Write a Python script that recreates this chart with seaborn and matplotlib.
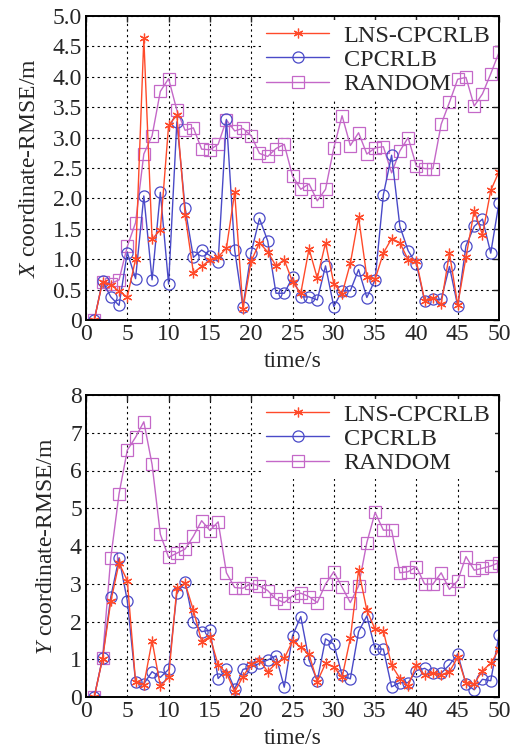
import numpy as np
import pandas as pd
import seaborn as sns
import matplotlib.pyplot as plt

sns.set_style('white')
plt.rcParams['font.family'] = ['Liberation Serif', 'DejaVu Serif']
plt.rcParams['mathtext.fontset'] = 'custom'
plt.rcParams['mathtext.rm'] = 'Liberation Serif'
plt.rcParams['mathtext.it'] = 'Liberation Serif:italic'

time = list(range(1, 51))

x_lns = [0, 0.63, 0.58, 0.47, 0.38, 1.00, 4.63, 1.33, 1.48, 3.20,
         3.37, 1.73, 0.78, 0.88, 0.99, 1.04, 1.18, 2.10, 0.18, 0.97,
         1.27, 1.12, 0.89, 0.99, 0.63, 0.44, 1.17, 0.69, 1.27, 0.60,
         0.43, 0.93, 1.69, 0.71, 0.67, 1.10, 1.34, 1.27, 0.99, 0.97,
         0.32, 0.37, 0.26, 1.10, 0.25, 1.03, 1.80, 1.40, 2.13, 2.44]
x_cp = [0, 0.64, 0.38, 0.24, 1.11, 0.68, 2.04, 0.66, 2.10, 0.59,
        3.26, 1.84, 1.03, 1.15, 1.06, 0.96, 3.30, 1.15, 0.22, 1.11,
        1.67, 1.30, 0.44, 0.44, 0.70, 0.38, 0.38, 0.33, 0.89, 0.22,
        0.48, 0.48, 0.83, 0.37, 0.66, 2.06, 2.71, 1.54, 1.14, 0.92,
        0.31, 0.34, 0.34, 0.88, 0.23, 1.22, 1.54, 1.66, 1.10, 1.93]
x_rand = [0, 0.63, 0.60, 0.66, 1.21, 1.60, 2.73, 3.03, 3.76, 3.97,
          3.45, 3.12, 3.16, 2.81, 2.80, 2.89, 3.29, 3.11, 3.15, 3.03,
          2.74, 2.69, 2.82, 2.89, 2.37, 2.15, 2.24, 1.96, 2.15, 2.83,
          3.36, 2.87, 3.08, 2.73, 2.83, 2.85, 2.42, 2.78, 3.00, 2.53,
          2.49, 2.49, 3.22, 3.58, 3.96, 3.99, 3.52, 3.72, 4.05, 4.40]

y_lns = [0, 1.01, 2.53, 3.55, 3.08, 0.41, 0.32, 1.49, 0.29, 0.52,
         2.88, 3.01, 2.30, 1.47, 1.60, 0.85, 0.64, 0.14, 0.54, 0.87,
         0.98, 0.67, 0.89, 1.02, 1.48, 1.32, 1.13, 0.41, 0.89, 0.80,
         0.52, 1.55, 3.36, 2.30, 1.79, 1.75, 0.84, 0.49, 0.29, 0.85,
         0.58, 0.63, 0.58, 0.67, 1.05, 0.36, 0.35, 0.70, 0.89, 1.26]
y_cp = [0, 1.03, 2.65, 3.69, 2.55, 0.41, 0.35, 0.67, 0.52, 0.73,
        2.75, 3.04, 1.99, 1.73, 1.77, 0.49, 0.73, 0.21, 0.73, 0.79,
        0.89, 0.98, 1.09, 0.26, 1.62, 2.13, 0.98, 0.43, 1.54, 1.40,
        0.58, 0.48, 1.73, 2.15, 1.27, 1.27, 0.27, 0.38, 0.38, 0.70,
        0.76, 0.63, 0.63, 0.85, 1.14, 0.35, 0.19, 0.47, 0.43, 1.64]
y_rand = [0, 1.03, 3.69, 5.38, 6.54, 6.88, 7.29, 6.16, 4.31, 3.70,
          3.81, 3.92, 4.26, 4.67, 4.41, 4.64, 3.29, 2.90, 2.88, 3.01,
          2.94, 2.82, 2.59, 2.50, 2.68, 2.75, 2.66, 2.50, 2.99, 3.32,
          2.91, 2.50, 2.94, 4.09, 4.89, 4.42, 4.42, 3.29, 3.32, 3.45,
          2.99, 2.99, 3.29, 2.85, 3.08, 3.72, 3.36, 3.41, 3.47, 3.56]

names = ['LNS-CPCRLB', 'CPCRLB', 'RANDOM']
colors = ['#ff4a2a', '#4a4ac8', '#c468c8']
asterisk = (6, 2, 0)


def draw_panel(ax, series, yticks, yticklabels, ylabel):
    df = pd.DataFrame({'time': time})
    for name, vals in zip(names, series):
        df[name] = vals
    styles = [dict(marker=asterisk, markersize=7, zorder=4),
              dict(marker='o', markersize=8, zorder=3),
              dict(marker='s', markersize=8, zorder=2.5)]
    for name, color, st in zip(names, colors, styles):
        sns.lineplot(data=df, x='time', y=name, ax=ax, color=color, label=name,
                     linewidth=1.0, markerfacecolor='none', markeredgecolor=color,
                     markeredgewidth=0.9, estimator=None, sort=False, **st)
    ax.set_xlim(0, 50)
    ax.set_ylim(yticks[0], yticks[-1])
    ax.set_xticks(range(0, 51, 5))
    ax.set_yticks(yticks, yticklabels)
    ax.set_axisbelow(True)
    ax.grid(True, color='black', linestyle=(0, (2, 3)), linewidth=0.8)
    ax.tick_params(direction='in', length=4, width=1, top=True, right=True,
                   labelsize=17, pad=3)
    for sp in ax.spines.values():
        sp.set_linewidth(1.4)
        sp.set_color('black')
        sp.set_zorder(5)
    ax.set_xlabel('time/s', fontsize=17, labelpad=4)
    ax.set_ylabel(ylabel, fontsize=17, labelpad=9)
    leg = ax.legend(loc='upper right', fontsize=17.5, frameon=True, fancybox=False,
                    framealpha=1, edgecolor='white', handlelength=2.6,
                    borderaxespad=0.15, labelspacing=0.1, handletextpad=0.6,
                    borderpad=0.2)
    leg.get_frame().set_linewidth(0)
    leg.set_zorder(1.8)


fig = plt.figure(figsize=(5.23, 7.53), dpi=100)
ax1 = fig.add_axes([86 / 523, 1 - 320 / 753, 413 / 523, 304 / 753])
ax2 = fig.add_axes([86 / 523, 1 - 697 / 753, 413 / 523, 302 / 753])

draw_panel(ax1, [x_lns, x_cp, x_rand], np.arange(0, 5.01, 0.5),
           ['0'] + ['%.1f' % v for v in np.arange(0.5, 5.01, 0.5)],
           r'$X$ coordinate-RMSE/m')
draw_panel(ax2, [y_lns, y_cp, y_rand], list(range(0, 9)),
           [str(v) for v in range(0, 9)],
           r'$Y$ coordinate-RMSE/m')

plt.savefig('out.png', dpi=100)
